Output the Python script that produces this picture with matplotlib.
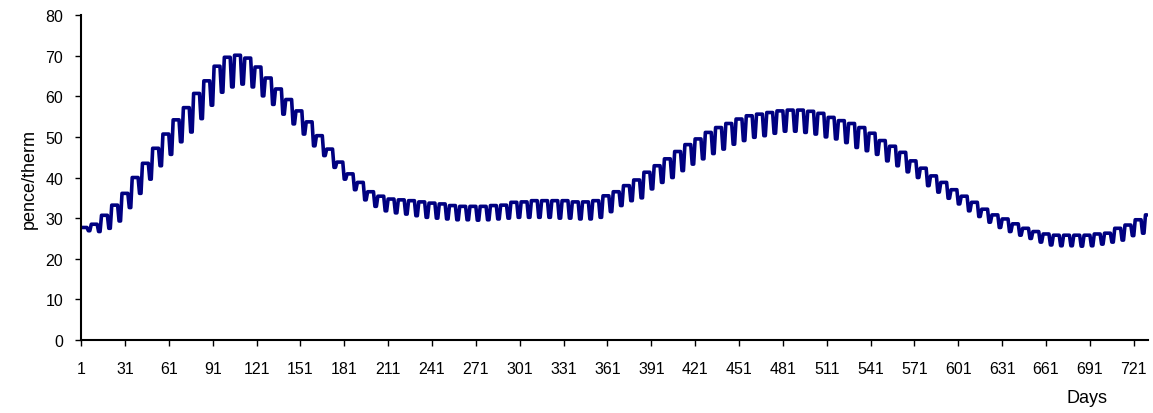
import numpy as np
import matplotlib
matplotlib.use("Agg")
import matplotlib.pyplot as plt

# weekly levels (pence/therm): weekday plateau and weekend dip
weekday_level = [27.7,
                 28.5, 30.7, 33.2, 36.1, 40.0, 43.5, 47.2, 50.7, 54.2, 57.2, 60.7, 63.8, 67.4,
                 69.6, 70.1, 69.4, 67.2, 64.5, 61.8, 59.2, 56.4, 53.7, 50.3, 47.0, 43.8, 40.9,
                 38.8, 36.5, 35.4, 34.7, 34.5, 34.3, 34.0, 33.7, 33.5, 33.1, 32.9, 32.9, 32.9,
                 33.1, 33.2, 33.9, 34.0, 34.3, 34.3, 34.3, 34.3, 34.0, 34.0, 34.3, 35.5, 36.5,
                 38.0, 39.4, 41.3, 42.9, 44.6, 46.4, 48.1, 49.5, 51.1, 52.3, 53.3, 54.4, 55.2,
                 55.6, 56.0, 56.4, 56.6, 56.6, 56.3, 55.8, 54.8, 54.0, 53.3, 52.3, 50.9,
                 49.1, 47.7, 46.2, 44.1, 42.3, 40.4, 38.8, 37.0, 35.4, 33.9, 32.2, 30.8, 29.8,
                 28.6, 27.5, 26.7, 26.1, 25.8, 25.8, 25.8, 25.8, 26.1, 26.3, 27.5, 28.3, 29.6,
                 30.8]
weekend_level = [26.9,
                 26.7, 27.5, 29.3, 32.6, 36.1, 39.6, 42.9, 45.7, 48.8, 51.2, 54.5, 57.8, 61.0,
                 62.3, 63.0, 62.3, 60.1, 58.0, 55.6, 53.2, 50.7, 47.8, 45.4, 42.5, 39.6, 37.0,
                 34.5, 32.9, 31.8, 31.3, 31.0, 30.6, 30.2, 30.0, 29.8, 29.6, 29.6, 29.5, 29.6,
                 29.8, 30.0, 30.2, 30.2, 30.2, 30.2, 30.0, 30.0, 29.8, 29.8, 30.2, 31.6, 33.1,
                 34.3, 35.0, 37.2, 38.8, 40.0, 41.7, 43.3, 44.6, 45.9, 47.0, 48.2, 49.1, 49.9,
                 50.3, 50.9, 51.4, 51.4, 51.1, 50.7, 50.0, 49.5, 48.6, 47.4, 46.6, 45.7,
                 44.1, 42.9, 41.4, 40.0, 38.0, 36.4, 34.9, 33.5, 31.8, 30.4, 29.0, 27.7, 26.7,
                 25.8, 25.0, 24.1, 23.4, 23.2, 23.2, 23.1, 23.2, 23.6, 24.1, 24.6, 25.7, 26.3,
                 30.8]
n_days = 730
x_ticks = list(range(1, 722, 30))
y_ticks = list(range(0, 81, 10))

# 5 weekdays then 2 weekend days per week
price = []
for hi, lo in zip(weekday_level, weekend_level):
    price += [hi] * 5 + [lo] * 2
price = np.array(price[:n_days])
days = np.arange(1, n_days + 1)

plt.rcParams["font.family"] = ["Liberation Sans", "DejaVu Sans"]

fig = plt.figure(figsize=(11.53, 4.14), dpi=100)
ax = fig.add_axes([0.0703, 0.1763, 0.9257, 0.7850])

ax.plot(days, price, color="#000080", linewidth=2.6,
        solid_joinstyle="round", solid_capstyle="round")

ax.set_xlim(1, 731)
ax.set_ylim(0, 80)
ax.set_xticks(x_ticks)
ax.set_yticks(y_ticks)
ax.tick_params(axis="both", labelsize=11.5, length=4, width=1, direction="out", color="black")
ax.tick_params(axis="y", pad=9)
ax.tick_params(axis="x", pad=11)

for s in ["top", "right"]:
    ax.spines[s].set_visible(False)
for s in ["left", "bottom"]:
    ax.spines[s].set_linewidth(1.5)

ax.set_ylabel("pence/therm", fontsize=13, labelpad=5)
fig.text(1087 / 1153, 1 - 399 / 414, "Days", fontsize=13, ha="center", va="center")

fig.savefig("out.png", dpi=100)
